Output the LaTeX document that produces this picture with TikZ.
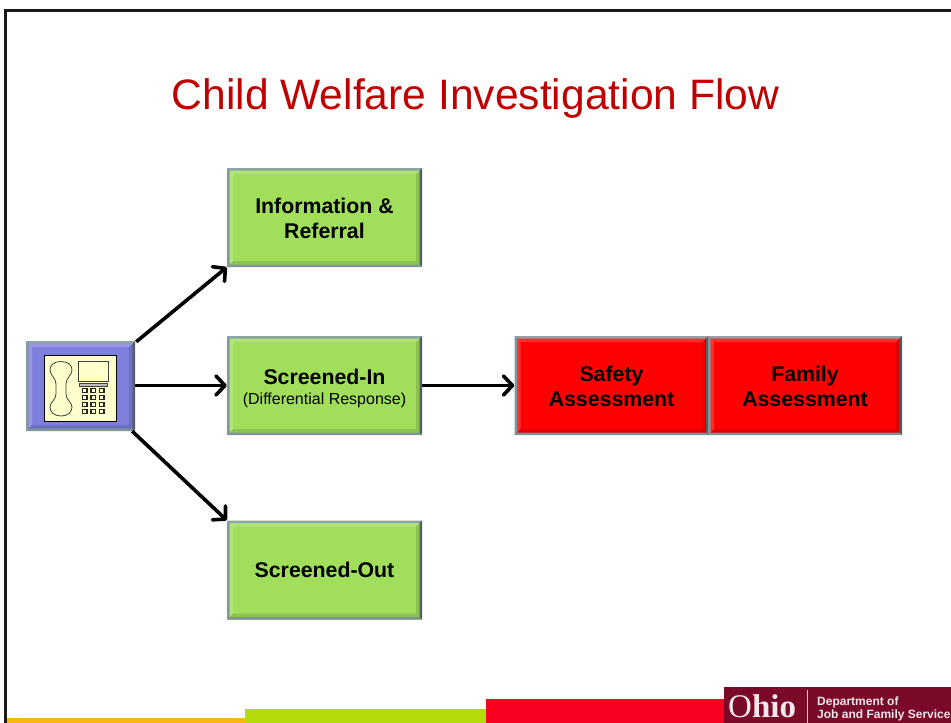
\documentclass[tikz,border=0pt]{standalone}
\usepackage{fontspec}
\setmainfont{Liberation Sans}
\newfontfamily\ohiofont{Liberation Serif}
\usetikzlibrary{arrows.meta}
\definecolor{boxgreen}{HTML}{A0DE5C}
\definecolor{boxred}{HTML}{FF0000}
\definecolor{boxblue}{HTML}{7F7FDD}
\definecolor{iconyellow}{HTML}{FFFFCC}
\definecolor{titlered}{HTML}{C00000}
\definecolor{bevtop}{HTML}{8CA5A5}
\definecolor{bevleft}{HTML}{7F9A9A}
\definecolor{bevright}{HTML}{4F6060}
\definecolor{bevbot}{HTML}{7F9595}
\definecolor{logored}{HTML}{7A0A28}
\definecolor{footyellow}{HTML}{F8B810}
\definecolor{footgreen}{HTML}{B4DC0A}
\definecolor{footred}{HTML}{FA0020}
\newcommand{\topstrut}[1]{\rule{0pt}{#1}}
\newcommand{\bevelring}[4]{% inner offset a, inner offset b, top style, side/bottom style
  \fill[#3] ([shift={(#1,-#1)}]bnw) -- ([shift={(-#1,-#1)}]bne) -- ([shift={(-#2,-#2)}]bne) -- ([shift={(#2,-#2)}]bnw) -- cycle;
  \fill[#3] ([shift={(#1,-#1)}]bnw) -- ([shift={(#1,#1)}]bsw) -- ([shift={(#2,#2)}]bsw) -- ([shift={(#2,-#2)}]bnw) -- cycle;
  \fill[#4] ([shift={(-#1,-#1)}]bne) -- ([shift={(-#1,#1)}]bse) -- ([shift={(-#2,#2)}]bse) -- ([shift={(-#2,-#2)}]bne) -- cycle;
  \fill[#4] ([shift={(#1,#1)}]bsw) -- ([shift={(-#1,#1)}]bse) -- ([shift={(-#2,#2)}]bse) -- ([shift={(#2,#2)}]bsw) -- cycle;
}
\tikzset{
  x=1pt,y=-1pt,
  bevel/.style={draw=none,align=center,inner sep=0pt,
    path picture={
      \coordinate (bsw) at (path picture bounding box.south west);
      \coordinate (bne) at (path picture bounding box.north east);
      \coordinate (bnw) at (path picture bounding box.north west);
      \coordinate (bse) at (path picture bounding box.south east);
      \fill[bevtop] (bnw) -- (bne) -- ([shift={(-2.5pt,-2.5pt)}]bne) -- ([shift={(2.5pt,-2.5pt)}]bnw) -- cycle;
      \fill[bevleft] (bnw) -- (bsw) -- ([shift={(2.5pt,2.5pt)}]bsw) -- ([shift={(2.5pt,-2.5pt)}]bnw) -- cycle;
      \fill[bevright] (bne) -- (bse) -- ([shift={(-2.5pt,2.5pt)}]bse) -- ([shift={(-2.5pt,-2.5pt)}]bne) -- cycle;
      \fill[bevbot] (bsw) -- (bse) -- ([shift={(-2.5pt,2.5pt)}]bse) -- ([shift={(2.5pt,2.5pt)}]bsw) -- cycle;
      \bevelring{2.5pt}{6pt}{white,opacity=.18}{black,opacity=.12}
    }},
  greenbox/.style={bevel,fill=boxgreen,minimum width=195pt,minimum height=99pt,font=\fontsize{21.3}{25}\selectfont\bfseries},
  redbox/.style={bevel,fill=boxred,minimum width=194pt,minimum height=99pt,font=\fontsize{21.3}{25}\selectfont\bfseries},
  flow/.style={draw=black,line width=3.6pt,-{Straight Barb[length=9pt,width=19pt,line width=3.6pt,round]}},
  iconline/.style={draw=black!75,line width=0.8pt,fill=iconyellow},
}
\begin{document}
\begin{tikzpicture}
\useasboundingbox (0,0) rectangle (951,723);
\fill[white] (0,0) rectangle (951,723);
\draw[black!90,line width=3pt] (5.5,723) -- (5.5,10.5) -- (951,10.5);
% footer
\fill[footyellow] (7,718) rectangle (245,723);
\fill[footgreen] (245,708.5) rectangle (486,723);
\fill[footred] (486,699) rectangle (724,723);
\fill[logored] (724,687) rectangle (951,723);
\draw[white!80!logored,line width=0.7pt] (807,690) -- (807,723);
\node[text=white!90!logored,font=\ohiofont\fontsize{33}{33}\selectfont\bfseries,anchor=base west,inner sep=0pt] (ohio) at (728,717) {{\mdseries O}hio};
\node[text=white!90!logored,font=\fontsize{12}{13}\selectfont\bfseries,anchor=north west,inner sep=0pt,align=left] (dept) at (817,697) {Department of\\Job and Family Service};
% title
\node[text=titlered,font=\fontsize{42.6}{48}\selectfont,inner sep=0pt] (title) at (475.5,98.5) {Child Welfare Investigation Flow};
% boxes
\node[greenbox] (info) at (324.5,217.5) {\topstrut{18pt}Information \&\\Referral};
\node[greenbox] (scin) at (324.5,385.5) {\topstrut{21pt}Screened-In\\[-5pt]{\fontsize{16}{18}\selectfont\mdseries(Differential Response)}};
\node[greenbox] (scout) at (324.5,570) {Screened-Out};
\node[redbox] (safety) at (611.5,385.5) {\topstrut{18pt}Safety\\Assessment};
\node[redbox] (family) at (805,385.5) {\topstrut{18pt}Family\\Assessment};
\node[bevel,fill=boxblue,minimum width=109pt,minimum height=90pt] (phone) at (80.5,386) {};
% phone icon
\node[draw=black,line width=0.9pt,fill=iconyellow,minimum width=72pt,minimum height=66pt,inner sep=0pt] (icon) at (80,388) {};
\draw[iconline,fill=none] (61,361.5) .. controls (68,361.5) and (72,365) .. (72,370) .. controls (72,375) and (66,378) .. (66,384) -- (66,394) .. controls (66,400) and (72,402) .. (72,407) .. controls (72,412) and (68,416) .. (61,416) .. controls (54,416) and (50,412) .. (50,407) .. controls (50,402) and (56,400) .. (56,394) -- (56,384) .. controls (56,378) and (50,375) .. (50,370) .. controls (50,365) and (54,361.5) .. (61,361.5) -- cycle;
\draw[iconline] (78,361) rectangle (108,381);
\draw[iconline,fill=black!25] (79,383.5) rectangle (107,386);
\foreach \ix in {0,1,2} \foreach \iy in {0,1,2,3}
  \draw[black!85,line width=1.2pt,fill=iconyellow] (82.5+\ix*8.5,388.5+\iy*6.9) rectangle +(4.5,4);
% connectors
\draw[flow] (phone.north east)++(1,1) coordinate (pa) (pa) -- (info.south west);
\draw[flow] (phone.east |- scin.west) -- (scin.west);
\draw[flow] (phone.south east)++(-3,0) coordinate (pb) (pb) -- (scout.north west);
\draw[flow] (scin.east) -- (safety.west);
\end{tikzpicture}
\end{document}
